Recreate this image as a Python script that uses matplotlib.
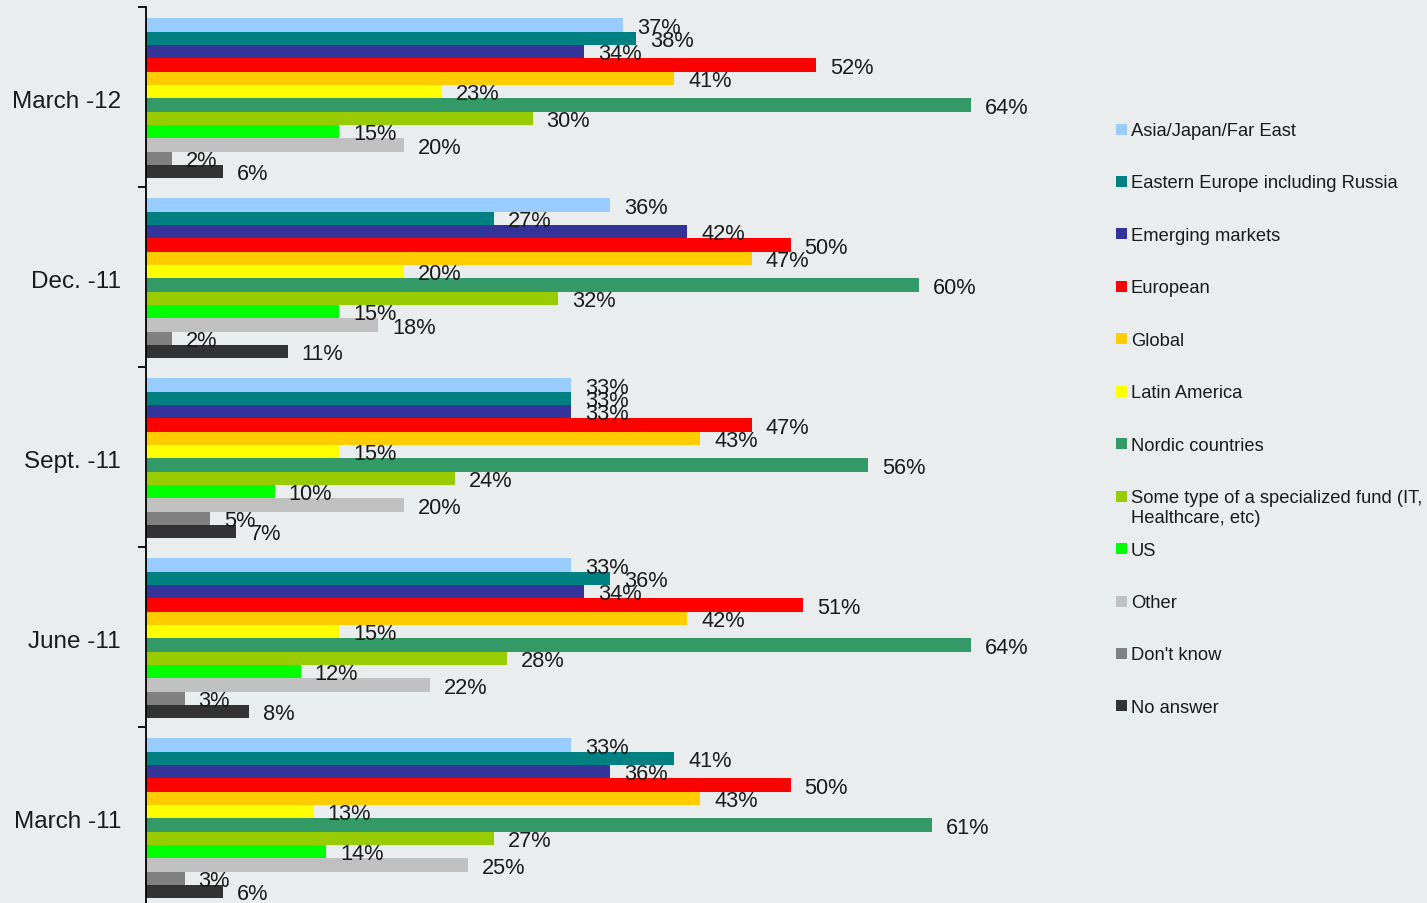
import numpy as np
import matplotlib
matplotlib.use('Agg')
import matplotlib.pyplot as plt
from matplotlib.patches import Rectangle

plt.rcParams['font.family'] = ['Liberation Sans', 'DejaVu Sans']

# Survey periods, top to bottom
periods = ['March -12', 'Dec. -11', 'Sept. -11', 'June -11', 'March -11']

series = ['Asia/Japan/Far East', 'Eastern Europe including Russia', 'Emerging markets',
          'European', 'Global', 'Latin America', 'Nordic countries',
          'Some type of a specialized fund (IT,\nHealthcare, etc)', 'US', 'Other',
          "Don't know", 'No answer']

colors = ['#99CCFF', '#008080', '#333399', '#FF0000', '#FFCC00', '#FFFF00',
          '#339966', '#99CC00', '#00FF00', '#C0C0C0', '#808080', '#333333']

# Share of respondents (%), one row per period, columns follow `series`
march_12 = [37, 38, 34, 52, 41, 23, 64, 30, 15, 20, 2, 6]
dec_11 = [36, 27, 42, 50, 47, 20, 60, 32, 15, 18, 2, 11]
sept_11 = [33, 33, 33, 47, 43, 15, 56, 24, 10, 20, 5, 7]
june_11 = [33, 36, 34, 51, 42, 15, 64, 28, 12, 22, 3, 8]
march_11 = [33, 41, 36, 50, 43, 13, 61, 27, 14, 25, 3, 6]

values = np.array([march_12, dec_11, sept_11, june_11, march_11])

bg = '#E9EDEE'
W, H = 1427, 904
fig = plt.figure(figsize=(W / 100, H / 100), dpi=100, facecolor=bg)
ax = fig.add_axes([146 / W, -4 / H, 900 / W, 900 / H], facecolor=bg)

n = len(series)
bar_h = 13.33 / 180
centers = np.arange(len(periods))

for j in range(n):
    y = centers + (j - (n - 1) / 2) * bar_h + 0.008
    vals = values[:, j]
    ax.barh(y, vals, height=bar_h, color=colors[j], edgecolor='none')
    for yy, v in zip(y, vals):
        ax.annotate(f'{v}%', xy=(v, yy), xytext=(10, -1.5), textcoords='offset points',
                    ha='left', va='center', fontsize=15.7, color='#1a1a1a',
                    annotation_clip=False)

ax.set_xlim(0, 900 / 12.89)
ax.set_ylim(len(periods) - 0.5, -0.5)

# Major ticks mark the group boundaries, minor ticks carry the period names
ax.set_yticks(np.arange(len(periods) + 1) - 0.5)
ax.set_yticklabels([])
ax.set_yticks(centers + 0.006, periods, minor=True)
ax.tick_params(axis='y', which='major', length=6, width=1.3, direction='out', color='black')
ax.tick_params(axis='y', which='minor', length=0, pad=18, labelsize=17.5, labelcolor='#1a1a1a')
ax.set_xticks([])
for s in ['top', 'right', 'bottom']:
    ax.spines[s].set_visible(False)
ax.spines['left'].set_linewidth(1.3)
ax.spines['left'].set_color('black')

# Legend column on the right
for j, (name, c) in enumerate(zip(series, colors)):
    ypx = 130 + 52.45 * j
    fig.patches.append(Rectangle((1116 / W, 1 - (ypx + 5.5) / H), 11 / W, 11 / H,
                                 transform=fig.transFigure, facecolor=c, edgecolor='none'))
    fig.text(1131 / W, 1 - (ypx - 7) / H, name, ha='left', va='top', fontsize=13.2,
             color='#1a1a1a', linespacing=1.25)

fig.savefig('out.png', dpi=100, facecolor=bg)
